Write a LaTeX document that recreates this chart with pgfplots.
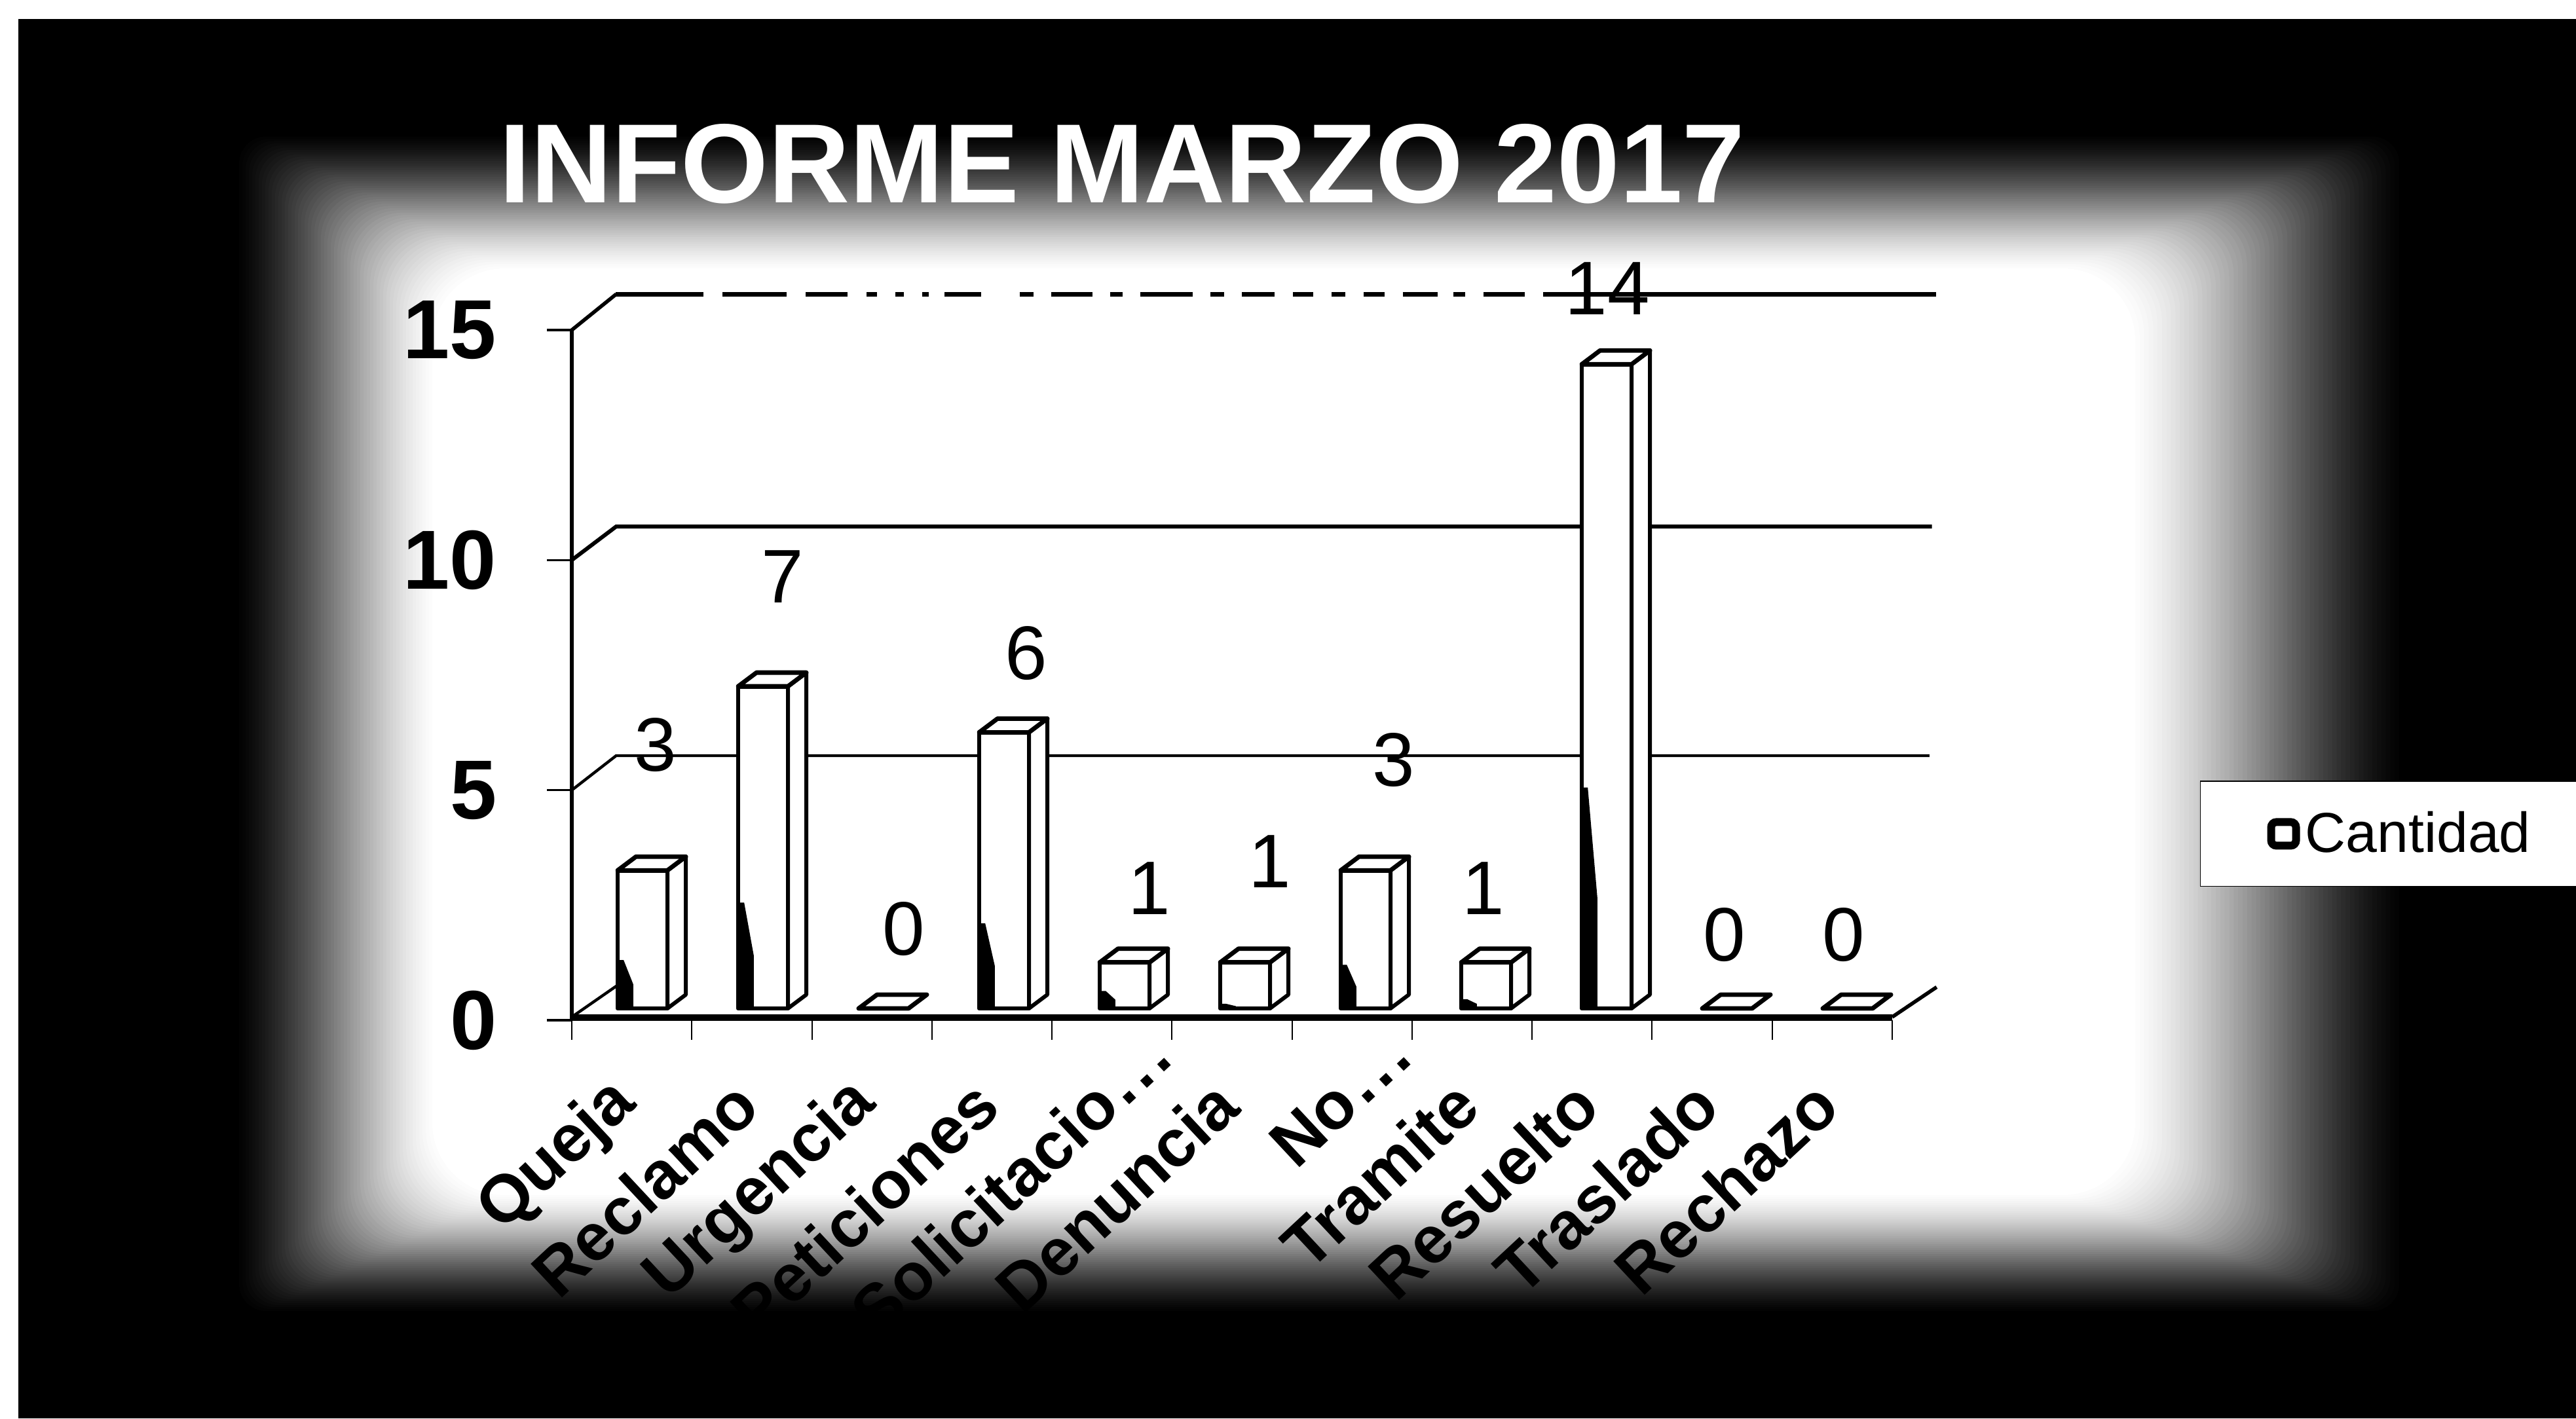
\documentclass[border=0pt]{standalone}
\usepackage{fontspec}
\setmainfont{Liberation Sans}
\usepackage{pgfplots}
\usepackage{pgfplotstable}
\pgfplotsset{compat=1.18}
\pgfplotstableread{
idx value smudge lx ly
0 3 1.05 0.698 5.977
1 7 2.30 1.757 9.634
2 0 0 2.766 1.978
3 6 1.85 3.787 7.969
4 1 0.38 4.813 2.860
5 1 0.10 5.817 3.444
6 3 0.95 6.848 5.650
7 1 0.20 7.595 2.860
8 14 4.80 8.627 15.90
9 0 0 9.603 1.850
10 0 0 10.597 1.850
}\datatable
\begin{document}
\begin{tikzpicture}
\clip (0pt,0pt) rectangle (983.25pt,541.5pt);
\useasboundingbox (0pt,0pt) rectangle (983.25pt,541.5pt);
\fill[white] (0pt,0pt) rectangle (983.25pt,541.5pt);
\begin{scope}[x=0.25pt,y=-0.25pt,yshift=541.5pt]
\fill[black] (28,29) rectangle (3933,2166);
\foreach \i in {0,...,60}{
  \pgfmathsetmacro\t{\i/60}
  \pgfmathsetmacro\p{100*(1-0.55*\t-0.45*\t*\t*(3-2*\t))}
  \pgfmathsetmacro\Lx{360+\t*(660-360)}
  \pgfmathsetmacro\Ty{205+\t*(410-205)}
  \pgfmathsetmacro\Rx{3670-\t*(3670-3260)}
  \pgfmathsetmacro\By{2005-\t*(2005-1825)}
  \pgfmathsetmacro\Rr{40+\t*70}
  \fill[black!\p,rounded corners=\Rr*0.25pt] (\Lx,\Ty) rectangle (\Rx,\By);
}
\end{scope}
\begin{axis}[
  at={(218.25pt,152pt)},anchor=south west,
  scale only axis,width=504pt,height=263.5pt,
  xmin=0,xmax=11,ymin=0,ymax=15,
  clip=false,
  axis lines=left,
  axis line style={-},
  x axis line style={line width=0.6pt},
  y axis line style={line width=1.4pt},
  unbounded coords=jump,
  ytick={0,5,10,15},
  xtick={0.5,1.5,2.5,3.5,4.5,5.5,6.5,7.5,8.5,9.5,10.5},
  xticklabels={Queja,Reclamo,Urgencia,Peticiones,{Solicitacio\rlap{\kern2pt.\kern2pt.\kern2pt.}},Denuncia,{No\rlap{\kern2pt.\kern2pt.\kern2pt.}},Tramite,Resuelto,Traslado,Rechazo},
  minor xtick={0,1,2,3,4,5,6,7,8,9,10,11},
  major x tick style={draw=none},
  minor x tick style={line width=0.5pt,black},
  y tick style={line width=0.8pt,black},
  tick align=outside,
  major tick length=9.5pt,
  minor tick length=7.5pt,
  /pgf/number format/assume math mode=true,
  yticklabel style={font=\fontsize{32}{34}\selectfont\bfseries,xshift=-19pt,inner sep=0pt,text=black},
  xticklabel style={font=\fontsize{25.5}{28}\selectfont\bfseries,rotate=43,anchor=east,inner sep=0pt,text=black,xshift=-14pt,yshift=-12pt},
  title={INFORME MARZO 2017},
  title style={at={(0.417,1.218)},anchor=center,text=white,font=\fontsize{43}{45}\selectfont\bfseries,inner sep=0pt},
  legend style={at={(1.233,0.270)},anchor=west,draw=black,line width=0.4pt,fill=white,
    inner xsep=25.5pt,inner ysep=9.5pt,font=\fontsize{21.5}{24}\selectfont},
]
\addlegendimage{legend image code/.code={\draw[line width=3pt,rounded corners=2pt,fill=white] (1.5pt,-4.5pt) rectangle (11pt,4.5pt);}}
\addlegendentry{Cantidad}
% gridlines on the back wall and their returns to the axis
\addplot[forget plot,line width=1.7pt,black] table[x=x,y=y] {
x y
0.366 15.78
1.097 15.78
nan nan
1.255 15.78
1.790 15.78
nan nan
1.948 15.78
2.297 15.78
nan nan
2.455 15.78
2.543 15.78
nan nan
2.695 15.78
2.766 15.78
nan nan
2.919 15.78
2.974 15.78
nan nan
3.105 15.78
3.410 15.78
nan nan
3.732 15.78
3.847 15.78
nan nan
3.994 15.78
4.338 15.78
nan nan
4.485 15.78
4.589 15.78
nan nan
4.736 15.78
5.173 15.78
nan nan
5.320 15.78
5.435 15.78
nan nan
5.582 15.78
5.855 15.78
nan nan
6.008 15.78
6.177 15.78
nan nan
6.330 15.78
6.444 15.78
nan nan
6.597 15.78
6.771 15.78
nan nan
6.924 15.78
7.213 15.78
nan nan
7.344 15.78
7.443 15.78
nan nan
7.595 15.78
7.939 15.78
nan nan
8.092 15.78
11.366 15.78
};
\addplot[forget plot,line width=1.4pt,black] coordinates {(0,15) (0.37,15.78)};
\addplot[forget plot,line width=1.5pt,black] coordinates {(0,10) (0.37,10.73) (11.33,10.73)};
\addplot[forget plot,line width=1.1pt,black] coordinates {(0,5) (0.37,5.75) (11.31,5.75)};
\addplot[forget plot,line width=1.1pt,black] coordinates {(0.37,0.74) (0,0.07)};
\addplot[forget plot,line width=2pt,black] coordinates {(0,0.07) (11,0.07)};
\addplot[forget plot,line width=1.4pt,black] coordinates {(11,0.07) (11.37,0.72)};
% boxes
\pgfplotsinvokeforeach{0,...,10}{
  \pgfplotstablegetelem{#1}{value}\of\datatable
  \pgfmathsetmacro\xl{0.382+1.00399*#1}
  \pgfmathsetmacro\xr{\xl+0.4147}
  \pgfmathsetmacro\xrb{\xr+0.1528}
  \pgfmathsetmacro\xlb{\xl+0.1528}
  \pgfmathsetmacro\ba{0.256}
  \pgfmathsetmacro\bb{\ba+0.299}
  \pgfmathsetmacro\ta{\ba+\pgfplotsretval}
  \pgfmathsetmacro\tb{\ta+0.299}
  \addplot[forget plot,fill=white,draw=black,line width=1.5pt,line join=round] coordinates {(\xr,\ba) (\xrb,\bb) (\xrb,\tb) (\xr,\ta)} --cycle;
  \addplot[forget plot,fill=white,draw=black,line width=1.7pt,line join=round] coordinates {(\xl,\ta) (\xr,\ta) (\xrb,\tb) (\xlb,\tb)} --cycle;
  \addplot[forget plot,fill=white,draw=black,line width=1.7pt,line join=round] coordinates {(\xl,\ba) (\xr,\ba) (\xr,\ta) (\xl,\ta)} --cycle;
  \pgfplotstablegetelem{#1}{smudge}\of\datatable
  \pgfmathsetmacro\sa{\ba+\pgfplotsretval}
  \pgfmathsetmacro\sm{\ba+0.5*\pgfplotsretval}
  \pgfmathsetmacro\xs{\xl+0.13}
  \pgfmathsetmacro\xm{\xl+0.05}
  \addplot[forget plot,fill=black,draw=none] coordinates {(\xl,\ba) (\xs,\ba) (\xs,\sm) (\xm,\sa) (\xl,\sa)} --cycle;
}
% value labels
\addplot[forget plot,draw=none,mark=none,
  nodes near coords,point meta=explicit symbolic,
  every node near coord/.style={anchor=center,inner sep=0pt,font=\fontsize{29}{31}\selectfont,text=black}]
  table[x=lx,y=ly,meta=value] {\datatable};
\end{axis}
\end{tikzpicture}
\end{document}
